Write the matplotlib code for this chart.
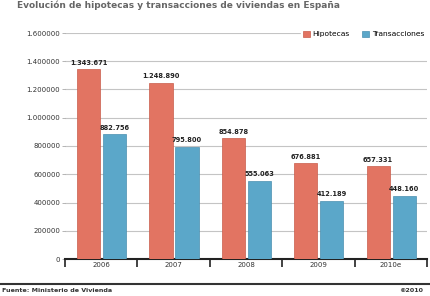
import matplotlib.pyplot as plt
import numpy as np

# Datos del gráfico
anios = ['2006', '2007', '2008', '2009', '2010e']
hipotecas = [1343671, 1248890, 854878, 676881, 657331]
transacciones = [882756, 795800, 555063, 412189, 448160]
etiquetas_y = [0, 200000, 400000, 600000, 800000, 1000000, 1200000, 1400000, 1600000]

color_hip = '#e27462'
color_tra = '#5ba7c9'


def fmt_eje(v):
    v = int(v)
    if v >= 1000000:
        return f"{v // 1000000}.{v % 1000000:06d}"
    return str(v)


def fmt_valor(v):
    return f"{v:,}".replace(',', '.')


fig = plt.figure(figsize=(4.30, 2.96), dpi=100)
ax = fig.add_axes([65 / 430, 1 - 259 / 296, 362 / 430, 226 / 296])

x = np.arange(len(anios))
ancho = 0.32
b1 = ax.bar(x - 0.175, hipotecas, ancho, color=color_hip, edgecolor='#c95c4b',
            linewidth=0.5, label='Hipotecas', zorder=3)
b2 = ax.bar(x + 0.185, transacciones, ancho, color=color_tra, edgecolor='#4a8fb0',
            linewidth=0.5, label='Transacciones', zorder=3)

for barras, vals in ((b1, hipotecas), (b2, transacciones)):
    for b, v in zip(barras, vals):
        ax.text(b.get_x() + b.get_width() / 2, v + 25000, fmt_valor(v),
                ha='center', va='bottom', fontsize=4.8, fontweight='bold', color='#222222')

ax.set_xlim(-0.5, len(anios) - 0.5)
ax.set_ylim(0, 1600000)
ax.set_yticks(etiquetas_y)
ax.set_yticklabels([fmt_eje(v) for v in etiquetas_y])
ax.yaxis.grid(True, color='#c4c4c4', linewidth=0.8, zorder=0)

# marcas del eje x en los límites de cada categoría
ax.set_xticks(np.arange(-0.5, len(anios), 1.0))
ax.set_xticklabels([])
ax.set_xticks(x, minor=True)
ax.set_xticklabels(anios, minor=True)
ax.tick_params(axis='x', which='major', direction='out', length=6, width=1.2, color='#222222')
ax.tick_params(axis='x', which='minor', length=0, labelsize=5, pad=2, labelcolor='#333333')
ax.tick_params(axis='y', length=2, width=0.5, color='#999999', labelsize=5,
               labelcolor='#333333', pad=1.5)

for s in ('top', 'right', 'left'):
    ax.spines[s].set_visible(False)
ax.spines['bottom'].set_linewidth(1.5)
ax.spines['bottom'].set_color('#222222')

fig.legend(handles=[b1, b2], loc='center right', bbox_to_anchor=(1.0, 1 - 34 / 296),
           ncol=2, frameon=True, facecolor='white', edgecolor='white', framealpha=1,
           fontsize=5.4, handlelength=1.0, handleheight=1.0, handletextpad=0.3,
           columnspacing=1.6, borderpad=0.3)

# título arriba y pie con fuente
fig.text(0.04, 1 - 5 / 296, 'Evolución de hipotecas y transacciones de viviendas en España',
         fontsize=6.5, fontweight='bold', color='#666666', va='center', ha='left')
fig.add_artist(plt.Line2D([0, 1], [1 - 284 / 296, 1 - 284 / 296], color='#333333',
                          linewidth=1.5, transform=fig.transFigure))
fig.text(0.005, 1 - 291 / 296, 'Fuente: Ministerio de Vivienda', fontsize=4.6,
         fontweight='bold', color='#333333', va='center', ha='left')
fig.text(0.985, 1 - 291 / 296, '©2010', fontsize=4.6, fontweight='bold',
         color='#333333', va='center', ha='right')

fig.savefig('out.png', dpi=100)
